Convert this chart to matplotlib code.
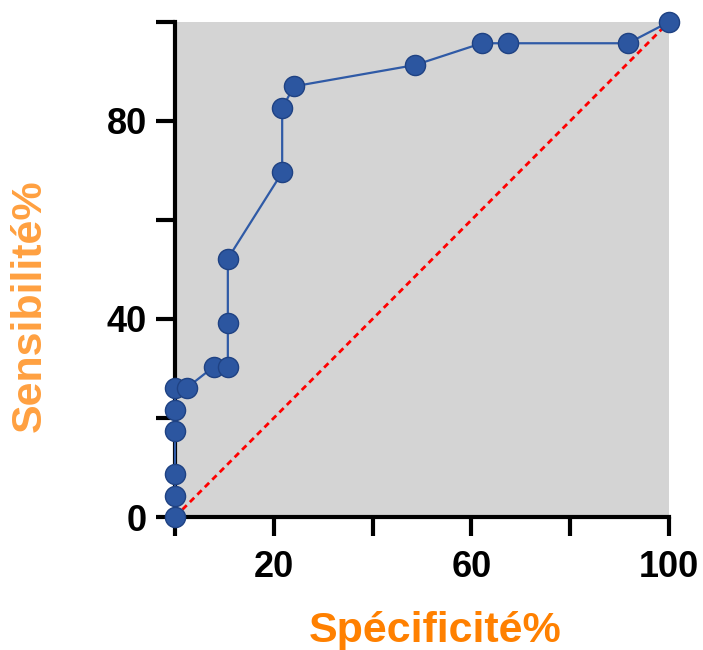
import matplotlib
matplotlib.use("Agg")
from matplotlib import pyplot as plt

plt.rcParams['font.family'] = ['Liberation Sans', 'DejaVu Sans']
plt.rcParams['font.weight'] = 'bold'

# ROC curve points
specificity = [0, 0, 0, 0, 0, 0, 2.4, 7.9, 10.7, 10.7, 10.7, 21.7, 21.7, 24.1, 48.6, 62.1, 67.4, 91.7, 100]
sensitivity = [0, 4.3, 8.7, 17.4, 21.7, 26.1, 26.1, 30.4, 30.4, 39.1, 52.2, 69.6, 82.6, 87.0, 91.3, 95.7, 95.7, 95.7, 100]
ref_line = [0, 100]

x_ticks = [0, 20, 40, 60, 80, 100]
x_tick_labels = ['', '20', '', '60', '', '100']
y_ticks = [0, 20, 40, 60, 80, 100]
y_tick_labels = ['0', '', '40', '', '80', '']

fig = plt.figure(figsize=(7.03, 6.5), dpi=100)
ax = fig.add_axes([0.2489, 0.2046, 0.7027, 0.7616])
ax.set_facecolor('#d4d4d4')

ax.plot(ref_line, ref_line, color='#ff0000', lw=2, linestyle=(0, (2.2, 1.6)), zorder=2)
ax.plot(specificity, sensitivity, '-o', color='#2f5aa6', lw=1.6, markersize=14.5,
        markerfacecolor='#2c56a0', markeredgecolor='#1f4283', markeredgewidth=1,
        clip_on=False, zorder=3)

ax.set_xlim(0, 100)
ax.set_ylim(0, 100)
ax.set_xticks(x_ticks)
ax.set_xticklabels(x_tick_labels)
ax.set_yticks(y_ticks)
ax.set_yticklabels(y_tick_labels)
ax.tick_params(width=3, length=14, labelsize=26)
ax.tick_params(axis='x', pad=10)
ax.tick_params(axis='y', pad=6)

for side in ['top', 'right']:
    ax.spines[side].set_visible(False)
for side in ['left', 'bottom']:
    ax.spines[side].set_linewidth(3)

ax.set_xlabel('Spécificité%', color='#ff8000', fontsize=31, fontweight='bold')
ax.set_ylabel('Sensibilité%', color='#ffa040', fontsize=31, fontweight='bold')
ax.xaxis.set_label_coords(0.526, -0.19)
ax.yaxis.set_label_coords(-0.253, 0.426)

fig.savefig('out.png', dpi=100)
